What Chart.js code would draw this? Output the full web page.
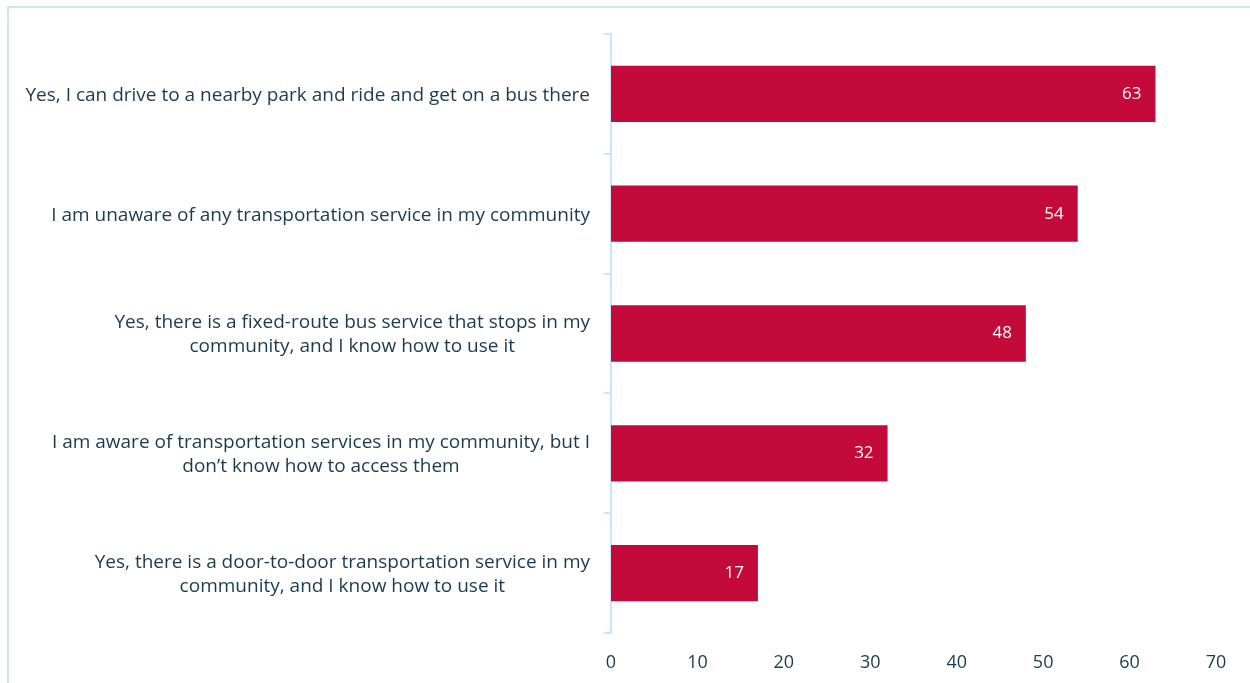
<!DOCTYPE html>
<html>
<head>
<meta charset="utf-8">
<script src="https://cdn.jsdelivr.net/npm/chart.js@4"></script>
<style>
  html, body { margin: 0; padding: 0; background: #fff; }
  .frame {
    position: absolute; left: 7px; top: 6px; right: 0; bottom: 0;
    border-left: 2px solid #c6e8fa; border-top: 2px solid #c6e8fa;
  }
  .wrap { position: absolute; left: 0; top: 0; width: 1250px; height: 683px; }
</style>
</head>
<body>
<div class="frame"></div>
<div class="wrap"><canvas id="awarenessChart" width="1250" height="683"></canvas></div>
<script>
  const answers = [
    'Yes, I can drive to a nearby park and ride and get on a bus there',
    'I am unaware of any transportation service in my community',
    ['Yes, there is a fixed-route bus service that stops in my', 'community, and I know how to use it'],
    ['I am aware of transportation services in my community, but I', 'don\u2019t know how to access them'],
    ['Yes, there is a door-to-door transportation service in my', 'community, and I know how to use it']
  ];
  const responses = [63, 54, 48, 32, 17];
  const xTicks = [0, 10, 20, 30, 40, 50, 60, 70];

  const textColor = '#1a3a50';
  const lineColor = '#c6e8fa';
  const fontFamily = '"Open Sans", Lato, sans-serif';
  const labelFont = '19px ' + fontFamily;
  const lineHeight = 24;

  // category labels: block right-aligned to the axis, lines centred within the block
  const answerLabels = {
    id: 'answerLabels',
    afterDraw(chart) {
      const ctx = chart.ctx;
      const yScale = chart.scales.y;
      const rightEdge = yScale.right - 21;
      ctx.save();
      ctx.font = labelFont;
      ctx.fillStyle = textColor;
      ctx.textAlign = 'center';
      ctx.textBaseline = 'middle';
      answers.forEach((label, i) => {
        const lines = Array.isArray(label) ? label : [label];
        const blockWidth = Math.max(...lines.map(l => ctx.measureText(l).width));
        const cx = rightEdge - blockWidth / 2;
        const cy = yScale.getPixelForTick(i) + 1.5;
        const startY = cy - (lines.length - 1) * lineHeight / 2;
        lines.forEach((line, j) => ctx.fillText(line, cx, startY + j * lineHeight));
      });
      ctx.restore();
    }
  };

  // white value text placed just inside the end of each bar
  const barValues = {
    id: 'barValues',
    afterDatasetsDraw(chart) {
      const ctx = chart.ctx;
      const meta = chart.getDatasetMeta(0);
      ctx.save();
      ctx.fillStyle = '#ffffff';
      ctx.font = '17px ' + fontFamily;
      ctx.textAlign = 'right';
      ctx.textBaseline = 'middle';
      meta.data.forEach((bar, i) => {
        ctx.fillText(String(responses[i]), bar.x - 14, bar.y);
      });
      ctx.restore();
    }
  };

  new Chart(document.getElementById('awarenessChart'), {
    type: 'bar',
    data: {
      labels: answers,
      datasets: [{
        data: responses,
        backgroundColor: '#c40a3b',
        barPercentage: 0.94,
        categoryPercentage: 0.5
      }]
    },
    options: {
      indexAxis: 'y',
      responsive: false,
      animation: false,
      layout: { padding: { top: 34, right: 34 } },
      plugins: { legend: { display: false }, tooltip: { enabled: false } },
      scales: {
        x: {
          min: 0,
          max: 70,
          afterBuildTicks(scale) { scale.ticks = xTicks.map(v => ({ value: v })); },
          afterFit(scale) { scale.height = 50; },
          grid: { display: false },
          border: { display: false },
          ticks: { color: textColor, font: { family: fontFamily, size: 18 }, padding: 11 }
        },
        y: {
          afterFit(scale) { scale.width = 611; },
          grid: { drawOnChartArea: false, color: lineColor, lineWidth: 2, tickLength: 7 },
          border: { color: lineColor, width: 2 },
          ticks: { display: false }
        }
      }
    },
    plugins: [barValues, answerLabels]
  });
</script>
</body>
</html>
